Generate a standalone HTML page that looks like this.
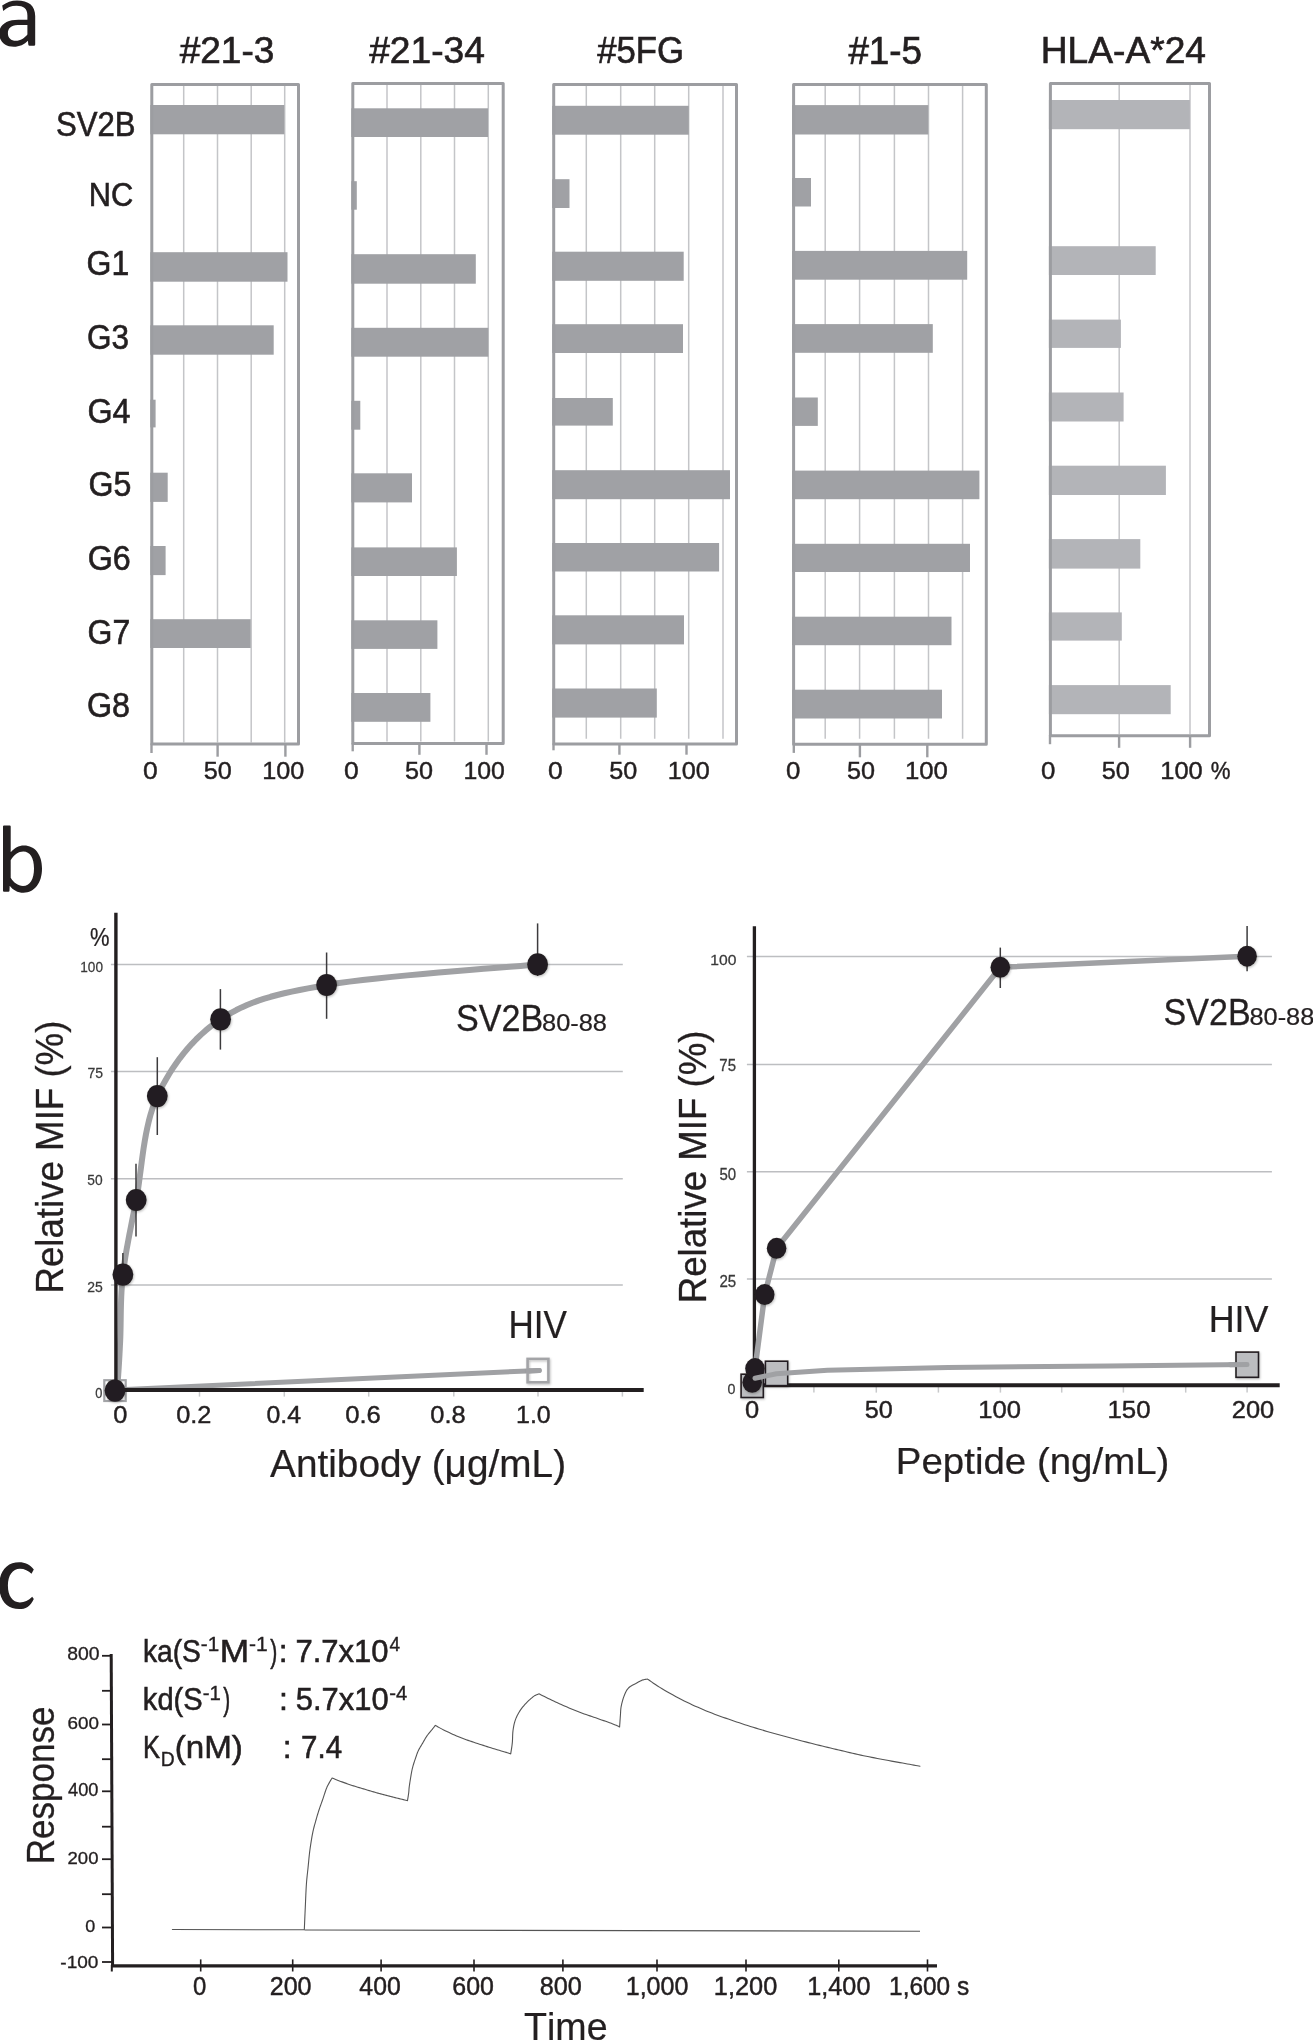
<!DOCTYPE html>
<html><head><meta charset="utf-8"><style>
html,body{margin:0;padding:0;background:#fff;}
svg{display:block;will-change:transform;}
text{font-family:"Liberation Sans",sans-serif;font-kerning:none;}
</style></head><body>
<svg width="1313" height="2040" viewBox="0 0 1313 2040">
<defs>
<filter id="blur1" x="-5%" y="-20%" width="110%" height="140%"><feGaussianBlur stdDeviation="0.7"/></filter>
<filter id="shadow" x="-50%" y="-50%" width="200%" height="200%"><feDropShadow dx="0.8" dy="1.2" stdDeviation="1.2" flood-color="#000" flood-opacity="0.25"/></filter>
</defs>
<rect width="1313" height="2040" fill="#fff"/>
<path fill-rule="evenodd" fill="#231f20" d="M2.2 5.6 C6.5 2.2 11.5 0.4 17 0.4 C28.5 0.4 35.2 5.5 35.2 16 L35.2 44.6 Q35.2 45.8 34 45.8 L29.6 45.8 Q28.4 45.8 28.3 44.6 L27.9 40.8 C24.5 44.6 19.5 46.8 13.8 46.8 C5 46.8 -0.8 41.5 -0.8 33.5 C-0.8 24.5 7 19.7 18.3 19.7 L27.4 19.7 L27.4 15.5 C27.4 8.5 23.5 5.7 16.5 5.7 C11 5.7 7 7.5 3.2 10.9 Z M27.4 24.9 L17.5 24.9 C11 24.9 7.9 28.5 7.9 33.2 C7.9 37.8 11.2 40.8 15.8 40.8 C20.5 40.8 24.8 37.8 27.4 34.5 Z"/>
<text transform="translate(179.68,63.49) scale(0.9875,1)" font-size="37.46" fill="#231f20" stroke="#231f20" stroke-width="0.67">#21-3</text>
<text transform="translate(369.18,63.49) scale(0.9926,1)" font-size="37.46" fill="#231f20" stroke="#231f20" stroke-width="0.67">#21-34</text>
<text transform="translate(597.29,63.49) scale(0.9262,1)" font-size="37.46" fill="#231f20" stroke="#231f20" stroke-width="0.67">#5FG</text>
<text transform="translate(848.38,63.59) scale(0.9656,1)" font-size="38.15" fill="#231f20" stroke="#231f20" stroke-width="0.69">#1-5</text>
<text transform="translate(1040.78,63.27) scale(1.0160,1)" font-size="36.58" fill="#231f20" stroke="#231f20" stroke-width="0.66">HLA-A*24</text>
<text transform="translate(55.90,135.65) scale(0.8973,1)" font-size="34.70" fill="#231f20" stroke="#231f20" stroke-width="0.62">SV2B</text>
<text transform="translate(88.78,205.86) scale(0.9076,1)" font-size="34.01" fill="#231f20" stroke="#231f20" stroke-width="0.61">NC</text>
<text transform="translate(86.50,275.05) scale(0.9234,1)" font-size="34.70" fill="#231f20" stroke="#231f20" stroke-width="0.62">G1</text>
<text transform="translate(86.93,348.84) scale(0.9009,1)" font-size="34.98" fill="#231f20" stroke="#231f20" stroke-width="0.63">G3</text>
<text transform="translate(87.49,422.55) scale(0.9297,1)" font-size="34.70" fill="#231f20" stroke="#231f20" stroke-width="0.62">G4</text>
<text transform="translate(88.50,496.15) scale(0.9366,1)" font-size="34.29" fill="#231f20" stroke="#231f20" stroke-width="0.62">G5</text>
<text transform="translate(87.79,570.15) scale(0.9404,1)" font-size="34.29" fill="#231f20" stroke="#231f20" stroke-width="0.62">G6</text>
<text transform="translate(87.60,644.05) scale(0.9334,1)" font-size="34.29" fill="#231f20" stroke="#231f20" stroke-width="0.62">G7</text>
<text transform="translate(86.99,717.45) scale(0.9424,1)" font-size="34.29" fill="#231f20" stroke="#231f20" stroke-width="0.62">G8</text>
<line x1="183.70" y1="86.00" x2="183.70" y2="742.40" stroke="#c4c5c8" stroke-width="1.5"/>
<line x1="217.50" y1="86.00" x2="217.50" y2="742.40" stroke="#c4c5c8" stroke-width="1.5"/>
<line x1="251.20" y1="86.00" x2="251.20" y2="742.40" stroke="#c4c5c8" stroke-width="1.5"/>
<line x1="284.70" y1="86.00" x2="284.70" y2="742.40" stroke="#c4c5c8" stroke-width="1.5"/>
<rect x="150.30" y="105.00" width="134.00" height="29.30" fill="#a0a1a5"/>
<rect x="150.30" y="252.20" width="137.20" height="29.50" fill="#a0a1a5"/>
<rect x="150.30" y="325.30" width="123.40" height="29.40" fill="#a0a1a5"/>
<rect x="150.30" y="399.70" width="5.30" height="27.70" fill="#a0a1a5"/>
<rect x="150.30" y="472.70" width="17.40" height="29.20" fill="#a0a1a5"/>
<rect x="150.30" y="546.00" width="15.30" height="29.10" fill="#a0a1a5"/>
<rect x="150.30" y="619.20" width="100.40" height="28.80" fill="#a0a1a5"/>
<rect x="151.80" y="84.50" width="146.70" height="659.50" fill="none" stroke="#9c9da1" stroke-width="3" stroke-linejoin="round"/>
<line x1="151.50" y1="743.50" x2="151.50" y2="753.00" stroke="#9c9da1" stroke-width="2.4"/>
<line x1="217.60" y1="743.50" x2="217.60" y2="756.70" stroke="#9c9da1" stroke-width="2.4"/>
<line x1="285.40" y1="743.50" x2="285.40" y2="756.70" stroke="#9c9da1" stroke-width="2.4"/>
<text transform="translate(142.88,779.15) scale(1.1057,1)" font-size="23.96" fill="#231f20" stroke="#231f20" stroke-width="0.43">0</text>
<text transform="translate(203.81,779.15) scale(1.0528,1)" font-size="23.96" fill="#231f20" stroke="#231f20" stroke-width="0.43">50</text>
<text transform="translate(262.30,779.15) scale(1.0523,1)" font-size="23.96" fill="#231f20" stroke="#231f20" stroke-width="0.43">100</text>
<line x1="387.00" y1="85.00" x2="387.00" y2="741.60" stroke="#c4c5c8" stroke-width="1.5"/>
<line x1="420.80" y1="85.00" x2="420.80" y2="741.60" stroke="#c4c5c8" stroke-width="1.5"/>
<line x1="454.50" y1="85.00" x2="454.50" y2="741.60" stroke="#c4c5c8" stroke-width="1.5"/>
<line x1="488.30" y1="85.00" x2="488.30" y2="741.60" stroke="#c4c5c8" stroke-width="1.5"/>
<rect x="351.30" y="108.30" width="136.70" height="28.70" fill="#a0a1a5"/>
<rect x="351.30" y="181.20" width="5.50" height="28.50" fill="#a0a1a5"/>
<rect x="351.30" y="254.20" width="124.50" height="29.50" fill="#a0a1a5"/>
<rect x="351.30" y="327.80" width="137.00" height="28.90" fill="#a0a1a5"/>
<rect x="351.30" y="400.80" width="9.00" height="28.90" fill="#a0a1a5"/>
<rect x="351.30" y="473.30" width="60.70" height="29.10" fill="#a0a1a5"/>
<rect x="351.30" y="547.40" width="105.60" height="28.60" fill="#a0a1a5"/>
<rect x="351.30" y="620.30" width="86.10" height="28.60" fill="#a0a1a5"/>
<rect x="351.30" y="693.00" width="79.10" height="28.80" fill="#a0a1a5"/>
<rect x="352.80" y="83.50" width="150.40" height="660.10" fill="none" stroke="#9c9da1" stroke-width="3" stroke-linejoin="round"/>
<line x1="352.70" y1="743.10" x2="352.70" y2="751.30" stroke="#9c9da1" stroke-width="2.4"/>
<line x1="419.40" y1="743.10" x2="419.40" y2="754.80" stroke="#9c9da1" stroke-width="2.4"/>
<line x1="486.50" y1="743.10" x2="486.50" y2="754.80" stroke="#9c9da1" stroke-width="2.4"/>
<text transform="translate(343.98,779.15) scale(1.1057,1)" font-size="23.96" fill="#231f20" stroke="#231f20" stroke-width="0.43">0</text>
<text transform="translate(404.91,779.15) scale(1.0528,1)" font-size="23.96" fill="#231f20" stroke="#231f20" stroke-width="0.43">50</text>
<text transform="translate(463.43,779.15) scale(1.0362,1)" font-size="23.96" fill="#231f20" stroke="#231f20" stroke-width="0.43">100</text>
<line x1="586.30" y1="86.00" x2="586.30" y2="738.80" stroke="#c4c5c8" stroke-width="1.5"/>
<line x1="620.70" y1="86.00" x2="620.70" y2="738.80" stroke="#c4c5c8" stroke-width="1.5"/>
<line x1="654.70" y1="86.00" x2="654.70" y2="738.80" stroke="#c4c5c8" stroke-width="1.5"/>
<line x1="688.70" y1="86.00" x2="688.70" y2="738.80" stroke="#c4c5c8" stroke-width="1.5"/>
<line x1="723.00" y1="86.00" x2="723.00" y2="738.80" stroke="#c4c5c8" stroke-width="1.5"/>
<rect x="552.20" y="105.80" width="136.60" height="28.90" fill="#a0a1a5"/>
<rect x="552.20" y="179.20" width="17.30" height="28.80" fill="#a0a1a5"/>
<rect x="552.20" y="251.70" width="131.50" height="29.10" fill="#a0a1a5"/>
<rect x="552.20" y="324.20" width="130.80" height="28.80" fill="#a0a1a5"/>
<rect x="552.20" y="398.00" width="60.60" height="27.60" fill="#a0a1a5"/>
<rect x="552.20" y="470.20" width="177.80" height="29.00" fill="#a0a1a5"/>
<rect x="552.20" y="543.00" width="166.90" height="28.50" fill="#a0a1a5"/>
<rect x="552.20" y="615.30" width="131.80" height="29.10" fill="#a0a1a5"/>
<rect x="552.20" y="688.50" width="104.60" height="29.10" fill="#a0a1a5"/>
<rect x="553.70" y="84.50" width="182.80" height="659.50" fill="none" stroke="#9c9da1" stroke-width="3" stroke-linejoin="round"/>
<line x1="553.50" y1="743.50" x2="553.50" y2="750.30" stroke="#9c9da1" stroke-width="2.4"/>
<line x1="619.40" y1="743.50" x2="619.40" y2="754.70" stroke="#9c9da1" stroke-width="2.4"/>
<line x1="686.50" y1="743.50" x2="686.50" y2="754.70" stroke="#9c9da1" stroke-width="2.4"/>
<text transform="translate(548.08,779.15) scale(1.1057,1)" font-size="23.96" fill="#231f20" stroke="#231f20" stroke-width="0.43">0</text>
<text transform="translate(609.31,779.15) scale(1.0528,1)" font-size="23.96" fill="#231f20" stroke="#231f20" stroke-width="0.43">50</text>
<text transform="translate(667.80,779.15) scale(1.0523,1)" font-size="23.96" fill="#231f20" stroke="#231f20" stroke-width="0.43">100</text>
<line x1="825.20" y1="86.00" x2="825.20" y2="738.80" stroke="#c4c5c8" stroke-width="1.5"/>
<line x1="859.60" y1="86.00" x2="859.60" y2="738.80" stroke="#c4c5c8" stroke-width="1.5"/>
<line x1="894.40" y1="86.00" x2="894.40" y2="738.80" stroke="#c4c5c8" stroke-width="1.5"/>
<line x1="928.50" y1="86.00" x2="928.50" y2="738.80" stroke="#c4c5c8" stroke-width="1.5"/>
<line x1="962.60" y1="86.00" x2="962.60" y2="738.80" stroke="#c4c5c8" stroke-width="1.5"/>
<rect x="792.10" y="105.10" width="136.20" height="29.40" fill="#a0a1a5"/>
<rect x="792.10" y="178.00" width="18.90" height="28.50" fill="#a0a1a5"/>
<rect x="792.10" y="250.90" width="175.10" height="28.80" fill="#a0a1a5"/>
<rect x="792.10" y="324.10" width="140.70" height="28.70" fill="#a0a1a5"/>
<rect x="792.10" y="397.50" width="25.70" height="28.40" fill="#a0a1a5"/>
<rect x="792.10" y="470.60" width="187.30" height="28.60" fill="#a0a1a5"/>
<rect x="792.10" y="543.80" width="177.90" height="28.20" fill="#a0a1a5"/>
<rect x="792.10" y="616.70" width="159.40" height="28.50" fill="#a0a1a5"/>
<rect x="792.10" y="689.70" width="149.90" height="28.80" fill="#a0a1a5"/>
<rect x="793.60" y="84.50" width="192.70" height="659.80" fill="none" stroke="#9c9da1" stroke-width="3" stroke-linejoin="round"/>
<line x1="793.80" y1="743.80" x2="793.80" y2="752.90" stroke="#9c9da1" stroke-width="2.4"/>
<line x1="859.90" y1="743.80" x2="859.90" y2="757.30" stroke="#9c9da1" stroke-width="2.4"/>
<line x1="927.30" y1="743.80" x2="927.30" y2="757.30" stroke="#9c9da1" stroke-width="2.4"/>
<text transform="translate(786.01,779.15) scale(1.0795,1)" font-size="23.96" fill="#231f20" stroke="#231f20" stroke-width="0.43">0</text>
<text transform="translate(846.91,779.15) scale(1.0528,1)" font-size="23.96" fill="#231f20" stroke="#231f20" stroke-width="0.43">50</text>
<text transform="translate(904.95,779.15) scale(1.0765,1)" font-size="23.96" fill="#231f20" stroke="#231f20" stroke-width="0.43">100</text>
<line x1="1119.20" y1="85.00" x2="1119.20" y2="734.20" stroke="#c4c5c8" stroke-width="1.5"/>
<line x1="1190.00" y1="85.00" x2="1190.00" y2="734.20" stroke="#c4c5c8" stroke-width="1.5"/>
<rect x="1048.90" y="100.00" width="141.00" height="29.20" fill="#b3b4b8" filter="url(#blur1)"/>
<rect x="1048.90" y="246.20" width="106.80" height="28.80" fill="#b3b4b8" filter="url(#blur1)"/>
<rect x="1048.90" y="319.60" width="72.00" height="28.30" fill="#b3b4b8" filter="url(#blur1)"/>
<rect x="1048.90" y="392.50" width="74.70" height="29.00" fill="#b3b4b8" filter="url(#blur1)"/>
<rect x="1048.90" y="465.70" width="117.00" height="29.30" fill="#b3b4b8" filter="url(#blur1)"/>
<rect x="1048.90" y="539.10" width="91.40" height="29.50" fill="#b3b4b8" filter="url(#blur1)"/>
<rect x="1048.90" y="612.40" width="72.90" height="28.20" fill="#b3b4b8" filter="url(#blur1)"/>
<rect x="1048.90" y="685.10" width="121.80" height="29.10" fill="#b3b4b8" filter="url(#blur1)"/>
<rect x="1050.40" y="83.50" width="159.10" height="652.20" fill="none" stroke="#9c9da1" stroke-width="3" stroke-linejoin="round"/>
<line x1="1050.00" y1="735.20" x2="1050.00" y2="744.20" stroke="#9c9da1" stroke-width="2.4"/>
<line x1="1119.10" y1="735.20" x2="1119.10" y2="747.80" stroke="#9c9da1" stroke-width="2.4"/>
<line x1="1190.10" y1="735.20" x2="1190.10" y2="747.80" stroke="#9c9da1" stroke-width="2.4"/>
<text transform="translate(1040.91,779.15) scale(1.0795,1)" font-size="23.96" fill="#231f20" stroke="#231f20" stroke-width="0.43">0</text>
<text transform="translate(1101.81,779.15) scale(1.0528,1)" font-size="23.96" fill="#231f20" stroke="#231f20" stroke-width="0.43">50</text>
<text transform="translate(1160.28,779.15) scale(1.0631,1)" font-size="23.96" fill="#231f20" stroke="#231f20" stroke-width="0.43">100</text>
<text transform="translate(1210.73,779.24) scale(0.9160,1)" font-size="24.25" fill="#231f20" stroke="#231f20" stroke-width="0.44">%</text>
<path fill-rule="evenodd" fill="#231f20" d="M3 826.5 Q3 825.5 4 825.5 L9.7 825.5 Q10.7 825.5 10.7 826.5 L10.7 852.3 C14.5 848 18.5 845.4 24 845.4 C35 845.4 42 854.5 42 868.5 C42 883 34.5 892.7 23.5 892.7 C17.5 892.7 13 890 9.7 885.7 L9.5 890.8 Q9.4 891.8 8.4 891.8 L4 891.8 Q3 891.8 3 890.8 Z M10.7 860.2 L10.7 877.8 C13.5 882.5 18 886 23 886 C30 886 34 879 34 868.5 C34 858 30 851.6 23.3 851.6 C18.5 851.6 14 855 10.7 860.2 Z"/>
<line x1="110.90" y1="964.60" x2="622.80" y2="964.60" stroke="#bdbec1" stroke-width="1.5"/>
<line x1="110.90" y1="1071.40" x2="622.80" y2="1071.40" stroke="#bdbec1" stroke-width="1.5"/>
<line x1="110.90" y1="1178.70" x2="622.80" y2="1178.70" stroke="#bdbec1" stroke-width="1.5"/>
<line x1="110.90" y1="1285.10" x2="622.80" y2="1285.10" stroke="#bdbec1" stroke-width="1.5"/>
<line x1="199.50" y1="1391.00" x2="199.50" y2="1396.60" stroke="#c8c9cb" stroke-width="1.5"/>
<line x1="284.30" y1="1391.00" x2="284.30" y2="1396.60" stroke="#c8c9cb" stroke-width="1.5"/>
<line x1="368.70" y1="1391.00" x2="368.70" y2="1396.60" stroke="#c8c9cb" stroke-width="1.5"/>
<line x1="453.80" y1="1391.00" x2="453.80" y2="1396.60" stroke="#c8c9cb" stroke-width="1.5"/>
<line x1="538.00" y1="1391.00" x2="538.00" y2="1396.60" stroke="#c8c9cb" stroke-width="1.5"/>
<line x1="622.40" y1="1391.00" x2="622.40" y2="1396.60" stroke="#c8c9cb" stroke-width="1.5"/>
<text transform="translate(80.30,971.71) scale(0.8978,1)" font-size="15.15" fill="#3a3a3a" stroke="#3a3a3a" stroke-width="0.27">100</text>
<text transform="translate(87.51,1078.13) scale(0.9616,1)" font-size="14.53" fill="#3a3a3a" stroke="#3a3a3a" stroke-width="0.26">75</text>
<text transform="translate(87.28,1184.93) scale(0.9623,1)" font-size="14.32" fill="#3a3a3a" stroke="#3a3a3a" stroke-width="0.26">50</text>
<text transform="translate(87.13,1291.92) scale(0.9292,1)" font-size="15.01" fill="#3a3a3a" stroke="#3a3a3a" stroke-width="0.27">25</text>
<text transform="translate(95.24,1397.71) scale(0.8459,1)" font-size="15.15" fill="#3a3a3a" stroke="#3a3a3a" stroke-width="0.27">0</text>
<text transform="translate(90.04,945.73) scale(0.8652,1)" font-size="25.37" fill="#231f20" stroke="#231f20" stroke-width="0.25">%</text>
<text transform="translate(113.23,1422.74) scale(1.0313,1)" font-size="24.65" fill="#231f20" stroke="#231f20" stroke-width="0.44">0</text>
<text transform="translate(176.23,1422.74) scale(1.0277,1)" font-size="24.65" fill="#231f20" stroke="#231f20" stroke-width="0.44">0.2</text>
<text transform="translate(266.55,1422.74) scale(1.0083,1)" font-size="24.65" fill="#231f20" stroke="#231f20" stroke-width="0.44">0.4</text>
<text transform="translate(345.22,1422.74) scale(1.0413,1)" font-size="24.65" fill="#231f20" stroke="#231f20" stroke-width="0.44">0.6</text>
<text transform="translate(430.33,1422.74) scale(1.0316,1)" font-size="24.65" fill="#231f20" stroke="#231f20" stroke-width="0.44">0.8</text>
<text transform="translate(516.02,1422.74) scale(1.0136,1)" font-size="24.65" fill="#231f20" stroke="#231f20" stroke-width="0.44">1.0</text>
<text transform="translate(270.04,1477.00) scale(1.0178,1)" font-size="38.10" fill="#231f20" stroke="#231f20" stroke-width="0.23">Antibody (μg/mL)</text>
<text transform="translate(63.30,1293.51) rotate(-90) scale(0.9377,1)" font-size="39.10" fill="#231f20" stroke="#231f20" stroke-width="0.31">Relative MIF (%)</text>
<path d="M115.00,1390.00 L539.30,1370.40" fill="none" stroke="#a0a1a4" stroke-width="5" stroke-linejoin="round" stroke-linecap="round"/>
<rect x="104.30" y="1380.20" width="21.4" height="20.8" fill="#fff" stroke="#a3a4a7" stroke-width="2.2"/>
<rect x="527.60" y="1358.90" width="20.8" height="23.4" fill="none" stroke="#a3a4a7" stroke-width="2.6" filter="url(#shadow)"/>
<path d="M539.30,1370.40 L529.00,1370.90" fill="none" stroke="#a0a1a4" stroke-width="5" stroke-linejoin="round" stroke-linecap="round"/>
<path d="M116.50,1392.00 L116.56,1391.44 L116.63,1390.81 L116.71,1390.12 L116.80,1389.37 L116.90,1388.55 L117.00,1387.66 L117.11,1386.71 L117.22,1385.69 L117.34,1384.60 L117.47,1383.44 L117.59,1382.21 L117.71,1380.91 L117.84,1379.54 L117.96,1378.10 L118.08,1376.59 L118.20,1375.00 L118.32,1373.36 L118.43,1371.69 L118.55,1369.99 L118.66,1368.23 L118.78,1366.41 L118.90,1364.53 L119.02,1362.57 L119.14,1360.52 L119.26,1358.39 L119.39,1356.14 L119.51,1353.79 L119.64,1351.31 L119.78,1348.70 L119.91,1345.95 L120.06,1343.06 L120.20,1340.00 L120.33,1336.76 L120.43,1333.34 L120.51,1329.75 L120.58,1326.00 L120.64,1322.12 L120.70,1318.11 L120.76,1313.99 L120.84,1309.78 L120.95,1305.49 L121.08,1301.13 L121.25,1296.74 L121.46,1292.31 L121.73,1287.87 L122.05,1283.42 L122.44,1279.00 L122.90,1274.60 L123.43,1270.24 L124.00,1265.92 L124.63,1261.60 L125.30,1257.28 L126.01,1252.95 L126.77,1248.59 L127.57,1244.18 L128.40,1239.71 L129.27,1235.16 L130.18,1230.53 L131.11,1225.79 L132.08,1220.93 L133.07,1215.93 L134.09,1210.79 L135.14,1205.48 L136.20,1200.00 L137.23,1194.26 L138.18,1188.23 L139.07,1181.95 L139.94,1175.45 L140.80,1168.79 L141.69,1161.99 L142.62,1155.11 L143.62,1148.19 L144.73,1141.26 L145.95,1134.37 L147.33,1127.55 L148.87,1120.86 L150.62,1114.32 L152.59,1107.99 L154.81,1101.90 L157.30,1096.10 L160.02,1090.48 L162.90,1084.91 L165.95,1079.42 L169.16,1074.00 L172.53,1068.67 L176.07,1063.45 L179.77,1058.34 L183.64,1053.35 L187.68,1048.50 L191.88,1043.80 L196.25,1039.25 L200.78,1034.88 L205.49,1030.68 L210.36,1026.68 L215.39,1022.88 L220.60,1019.30 L225.86,1015.96 L231.09,1012.89 L236.33,1010.04 L241.64,1007.42 L247.05,1004.98 L252.61,1002.72 L258.37,1000.61 L264.37,998.64 L270.66,996.77 L277.28,994.99 L284.29,993.28 L291.72,991.62 L299.62,989.98 L308.03,988.34 L317.01,986.69 L326.60,985.00 L337.29,983.30 L349.39,981.63 L362.68,980.00 L376.91,978.40 L391.87,976.86 L407.31,975.37 L423.00,973.93 L438.73,972.56 L454.24,971.25 L469.31,970.01 L483.72,968.86 L497.23,967.78 L509.60,966.79 L520.60,965.90 L530.02,965.10 L537.60,964.40" fill="none" stroke="#a0a1a4" stroke-width="6" stroke-linejoin="round" stroke-linecap="round"/>
<line x1="115.90" y1="912.70" x2="115.90" y2="1391.00" stroke="#231f20" stroke-width="3.4"/>
<line x1="114.00" y1="1390.00" x2="643.70" y2="1390.00" stroke="#231f20" stroke-width="3.9"/>
<line x1="122.90" y1="1253.00" x2="122.90" y2="1274.00" stroke="#3c3b3d" stroke-width="1.5"/>
<line x1="136.00" y1="1163.70" x2="136.00" y2="1236.40" stroke="#3c3b3d" stroke-width="1.5"/>
<line x1="157.30" y1="1057.20" x2="157.30" y2="1135.00" stroke="#3c3b3d" stroke-width="1.5"/>
<line x1="220.40" y1="989.10" x2="220.40" y2="1049.60" stroke="#3c3b3d" stroke-width="1.5"/>
<line x1="326.60" y1="952.50" x2="326.60" y2="1018.80" stroke="#3c3b3d" stroke-width="1.5"/>
<line x1="537.60" y1="923.40" x2="537.60" y2="976.00" stroke="#3c3b3d" stroke-width="1.5"/>
<ellipse cx="115" cy="1390.6" rx="10.4" ry="11.1" fill="#231f20" filter="url(#shadow)"/>
<ellipse cx="122.9" cy="1274.6" rx="10.4" ry="11.1" fill="#231f20" filter="url(#shadow)"/>
<ellipse cx="136.2" cy="1200" rx="10.4" ry="11.1" fill="#231f20" filter="url(#shadow)"/>
<ellipse cx="157.3" cy="1096.1" rx="10.4" ry="11.1" fill="#231f20" filter="url(#shadow)"/>
<ellipse cx="220.6" cy="1019.3" rx="10.4" ry="11.1" fill="#231f20" filter="url(#shadow)"/>
<ellipse cx="326.6" cy="985" rx="10.4" ry="11.1" fill="#231f20" filter="url(#shadow)"/>
<ellipse cx="537.6" cy="964.4" rx="10.4" ry="11.1" fill="#231f20" filter="url(#shadow)"/>
<text transform="translate(456.00,1030.60) scale(0.9361,1)" font-size="36.45" fill="#231f20" stroke="#231f20" stroke-width="0.29">SV2B</text>
<text transform="translate(542.02,1030.75) scale(1.0604,1)" font-size="23.96" fill="#231f20" stroke="#231f20" stroke-width="0.24">80-88</text>
<text transform="translate(508.53,1337.69) scale(0.9189,1)" font-size="38.20" fill="#231f20" stroke="#231f20" stroke-width="0.23">HIV</text>
<line x1="746.90" y1="956.60" x2="1271.90" y2="956.60" stroke="#bdbec1" stroke-width="1.5"/>
<line x1="746.90" y1="1064.40" x2="1271.90" y2="1064.40" stroke="#bdbec1" stroke-width="1.5"/>
<line x1="746.90" y1="1171.80" x2="1271.90" y2="1171.80" stroke="#bdbec1" stroke-width="1.5"/>
<line x1="746.90" y1="1278.90" x2="1271.90" y2="1278.90" stroke="#bdbec1" stroke-width="1.5"/>
<line x1="813.90" y1="1387.00" x2="813.90" y2="1392.60" stroke="#c8c9cb" stroke-width="1.5"/>
<line x1="876.30" y1="1387.00" x2="876.30" y2="1392.60" stroke="#c8c9cb" stroke-width="1.5"/>
<line x1="938.40" y1="1387.00" x2="938.40" y2="1392.60" stroke="#c8c9cb" stroke-width="1.5"/>
<line x1="1000.40" y1="1387.00" x2="1000.40" y2="1392.60" stroke="#c8c9cb" stroke-width="1.5"/>
<line x1="1061.70" y1="1387.00" x2="1061.70" y2="1392.60" stroke="#c8c9cb" stroke-width="1.5"/>
<line x1="1123.40" y1="1387.00" x2="1123.40" y2="1392.60" stroke="#c8c9cb" stroke-width="1.5"/>
<line x1="1185.70" y1="1387.00" x2="1185.70" y2="1392.60" stroke="#c8c9cb" stroke-width="1.5"/>
<line x1="1247.10" y1="1387.00" x2="1247.10" y2="1392.60" stroke="#c8c9cb" stroke-width="1.5"/>
<text transform="translate(710.35,964.71) scale(1.0244,1)" font-size="15.29" fill="#3a3a3a" stroke="#3a3a3a" stroke-width="0.28">100</text>
<text transform="translate(719.37,1071.00) scale(0.9520,1)" font-size="15.79" fill="#3a3a3a" stroke="#3a3a3a" stroke-width="0.28">75</text>
<text transform="translate(719.45,1179.79) scale(0.9002,1)" font-size="16.66" fill="#3a3a3a" stroke="#3a3a3a" stroke-width="0.30">50</text>
<text transform="translate(719.39,1286.99) scale(0.9059,1)" font-size="16.66" fill="#3a3a3a" stroke="#3a3a3a" stroke-width="0.30">25</text>
<text transform="translate(727.58,1394.32) scale(0.9515,1)" font-size="15.01" fill="#3a3a3a" stroke="#3a3a3a" stroke-width="0.27">0</text>
<text transform="translate(745.02,1418.16) scale(1.0813,1)" font-size="23.55" fill="#231f20" stroke="#231f20" stroke-width="0.42">0</text>
<text transform="translate(864.80,1418.16) scale(1.0716,1)" font-size="23.55" fill="#231f20" stroke="#231f20" stroke-width="0.42">50</text>
<text transform="translate(978.26,1418.16) scale(1.0874,1)" font-size="23.55" fill="#231f20" stroke="#231f20" stroke-width="0.42">100</text>
<text transform="translate(1107.44,1418.16) scale(1.0983,1)" font-size="23.55" fill="#231f20" stroke="#231f20" stroke-width="0.42">150</text>
<text transform="translate(1231.83,1418.16) scale(1.0803,1)" font-size="23.55" fill="#231f20" stroke="#231f20" stroke-width="0.42">200</text>
<text transform="translate(895.76,1473.60) scale(1.0178,1)" font-size="37.80" fill="#231f20" stroke="#231f20" stroke-width="0.23">Peptide (ng/mL)</text>
<text transform="translate(706.20,1303.21) rotate(-90) scale(0.9405,1)" font-size="38.95" fill="#231f20" stroke="#231f20" stroke-width="0.31">Relative MIF (%)</text>
<line x1="754.40" y1="926.30" x2="754.40" y2="1387.00" stroke="#231f20" stroke-width="3.3"/>
<line x1="752.80" y1="1385.20" x2="1279.70" y2="1385.20" stroke="#231f20" stroke-width="3.9"/>
<path d="M752.20,1382.30 L755.00,1368.60 L764.70,1294.60 L776.60,1248.30 L1000.30,967.30 L1247.10,956.20" fill="none" stroke="#a0a1a4" stroke-width="5.5" stroke-linejoin="round" stroke-linecap="round"/>
<line x1="1000.30" y1="947.60" x2="1000.30" y2="988.00" stroke="#3c3b3d" stroke-width="1.5"/>
<line x1="1247.10" y1="926.10" x2="1247.10" y2="971.30" stroke="#3c3b3d" stroke-width="1.5"/>
<rect x="741.10" y="1374.20" width="22.20" height="23.30" fill="#bcbdc0" stroke="#231f20" stroke-width="1.6" filter="url(#shadow)"/>
<rect x="765.40" y="1361.20" width="22.30" height="24.40" fill="#bcbdc0" stroke="#231f20" stroke-width="1.6" filter="url(#shadow)"/>
<ellipse cx="752.2" cy="1382.3" rx="9.8" ry="10.5" fill="#231f20" filter="url(#shadow)"/>
<ellipse cx="755" cy="1368.6" rx="9.8" ry="10.5" fill="#231f20" filter="url(#shadow)"/>
<ellipse cx="764.7" cy="1294.6" rx="9.8" ry="10.5" fill="#231f20" filter="url(#shadow)"/>
<ellipse cx="776.6" cy="1248.3" rx="9.8" ry="10.5" fill="#231f20" filter="url(#shadow)"/>
<ellipse cx="1000.3" cy="967.3" rx="9.8" ry="10.5" fill="#231f20" filter="url(#shadow)"/>
<ellipse cx="1247.1" cy="956.2" rx="9.8" ry="10.5" fill="#231f20" filter="url(#shadow)"/>
<path d="M755.00,1378.20 L776.50,1373.80 L827.50,1370.20 L948.00,1367.50 L1109.00,1366.00 L1247.00,1364.60" fill="none" stroke="#a0a1a4" stroke-width="5" stroke-linejoin="round" stroke-linecap="round"/>
<rect x="1236.00" y="1352.10" width="22.5" height="25.2" fill="#bcbdc0" stroke="#231f20" stroke-width="1.6" filter="url(#shadow)"/>
<path d="M1230.00,1364.80 L1247.00,1364.60" fill="none" stroke="#a0a1a4" stroke-width="5" stroke-linejoin="round" stroke-linecap="round"/>
<text transform="translate(1163.50,1024.59) scale(0.9243,1)" font-size="36.87" fill="#231f20" stroke="#231f20" stroke-width="0.29">SV2B</text>
<text transform="translate(1249.41,1024.75) scale(1.0666,1)" font-size="23.82" fill="#231f20" stroke="#231f20" stroke-width="0.24">80-88</text>
<text transform="translate(1208.66,1331.79) scale(0.9814,1)" font-size="36.61" fill="#231f20" stroke="#231f20" stroke-width="0.22">HIV</text>
<path fill-rule="evenodd" fill="#231f20" d="M33.8 1569.4 C30 1564.5 25 1562.2 19.2 1562.2 C7 1562.2 -0.8 1571 -0.8 1585.7 C-0.8 1600.5 7 1609.1 19.2 1609.1 C25.5 1609.1 30.5 1606.5 33.8 1598.9 L32.2 1596.8 C28.5 1600.5 24.5 1602.5 19.9 1602.5 C12.5 1602.5 7.9 1596 7.9 1585.6 C7.9 1575.5 12.5 1568.7 19.9 1568.7 C24.5 1568.7 28.5 1570.7 31.5 1573.7 Z"/>
<line x1="111.20" y1="1654.00" x2="112.60" y2="1967.00" stroke="#231f20" stroke-width="3"/>
<line x1="102.00" y1="1655.80" x2="112.00" y2="1655.80" stroke="#231f20" stroke-width="1.8"/>
<line x1="102.00" y1="1690.80" x2="112.00" y2="1690.80" stroke="#231f20" stroke-width="1.8"/>
<line x1="102.00" y1="1724.50" x2="112.00" y2="1724.50" stroke="#231f20" stroke-width="1.8"/>
<line x1="102.00" y1="1759.20" x2="112.00" y2="1759.20" stroke="#231f20" stroke-width="1.8"/>
<line x1="102.00" y1="1791.30" x2="112.00" y2="1791.30" stroke="#231f20" stroke-width="1.8"/>
<line x1="102.00" y1="1826.70" x2="112.00" y2="1826.70" stroke="#231f20" stroke-width="1.8"/>
<line x1="102.00" y1="1859.20" x2="112.00" y2="1859.20" stroke="#231f20" stroke-width="1.8"/>
<line x1="102.00" y1="1894.20" x2="112.00" y2="1894.20" stroke="#231f20" stroke-width="1.8"/>
<line x1="102.00" y1="1927.50" x2="112.00" y2="1927.50" stroke="#231f20" stroke-width="1.8"/>
<line x1="102.00" y1="1962.00" x2="112.00" y2="1962.00" stroke="#231f20" stroke-width="1.8"/>
<text transform="translate(67.22,1659.97) scale(1.1062,1)" font-size="17.49" fill="#231f20" stroke="#231f20" stroke-width="0.31">800</text>
<text transform="translate(67.60,1728.98) scale(1.0962,1)" font-size="17.21" fill="#231f20" stroke="#231f20" stroke-width="0.31">600</text>
<text transform="translate(68.04,1796.16) scale(1.0179,1)" font-size="17.90" fill="#231f20" stroke="#231f20" stroke-width="0.32">400</text>
<text transform="translate(67.52,1864.38) scale(1.0774,1)" font-size="17.21" fill="#231f20" stroke="#231f20" stroke-width="0.31">200</text>
<text transform="translate(85.14,1932.30) scale(1.1176,1)" font-size="16.11" fill="#231f20" stroke="#231f20" stroke-width="0.29">0</text>
<text transform="translate(60.30,1968.28) scale(1.1357,1)" font-size="16.80" fill="#231f20" stroke="#231f20" stroke-width="0.30">-100</text>
<line x1="111.00" y1="1965.80" x2="937.00" y2="1965.80" stroke="#231f20" stroke-width="3.3"/>
<line x1="111.80" y1="1965.00" x2="111.80" y2="1971.50" stroke="#231f20" stroke-width="2"/>
<line x1="200.70" y1="1959.40" x2="200.70" y2="1971.50" stroke="#231f20" stroke-width="1.6"/>
<line x1="292.70" y1="1959.40" x2="292.70" y2="1971.50" stroke="#231f20" stroke-width="1.6"/>
<line x1="381.10" y1="1959.40" x2="381.10" y2="1971.50" stroke="#231f20" stroke-width="1.6"/>
<line x1="474.00" y1="1959.40" x2="474.00" y2="1971.50" stroke="#231f20" stroke-width="1.6"/>
<line x1="562.90" y1="1959.40" x2="562.90" y2="1971.50" stroke="#231f20" stroke-width="1.6"/>
<line x1="657.00" y1="1959.40" x2="657.00" y2="1971.50" stroke="#231f20" stroke-width="1.6"/>
<line x1="746.00" y1="1959.40" x2="746.00" y2="1971.50" stroke="#231f20" stroke-width="1.6"/>
<line x1="838.80" y1="1959.40" x2="838.80" y2="1971.50" stroke="#231f20" stroke-width="1.6"/>
<line x1="927.50" y1="1959.40" x2="927.50" y2="1971.50" stroke="#231f20" stroke-width="1.6"/>
<text transform="translate(193.10,1995.30) scale(0.9348,1)" font-size="25.60" fill="#231f20" stroke="#231f20" stroke-width="0.46">0</text>
<text transform="translate(269.67,1995.30) scale(0.9806,1)" font-size="25.60" fill="#231f20" stroke="#231f20" stroke-width="0.46">200</text>
<text transform="translate(359.36,1995.30) scale(0.9687,1)" font-size="25.60" fill="#231f20" stroke="#231f20" stroke-width="0.46">400</text>
<text transform="translate(452.26,1995.30) scale(0.9759,1)" font-size="25.60" fill="#231f20" stroke="#231f20" stroke-width="0.46">600</text>
<text transform="translate(539.73,1995.30) scale(0.9862,1)" font-size="25.60" fill="#231f20" stroke="#231f20" stroke-width="0.46">800</text>
<text transform="translate(625.72,1995.30) scale(0.9792,1)" font-size="25.60" fill="#231f20" stroke="#231f20" stroke-width="0.46">1,000</text>
<text transform="translate(713.80,1995.30) scale(0.9906,1)" font-size="25.60" fill="#231f20" stroke="#231f20" stroke-width="0.46">1,200</text>
<text transform="translate(807.31,1995.30) scale(0.9857,1)" font-size="25.60" fill="#231f20" stroke="#231f20" stroke-width="0.46">1,400</text>
<text transform="translate(889.07,1995.30) scale(0.9536,1)" font-size="25.60" fill="#231f20" stroke="#231f20" stroke-width="0.46">1,600 s</text>
<text transform="translate(523.97,2039.70) scale(0.9719,1)" font-size="38.70" fill="#231f20" stroke="#231f20" stroke-width="0.23">Time</text>
<text transform="translate(54.00,1864.28) rotate(-90) scale(0.9106,1)" font-size="38.52" fill="#231f20" stroke="#231f20" stroke-width="0.31">Response</text>
<path d="M172.40,1929.50 L304.30,1929.80 L304.30,1929.80 L304.38,1928.05 L304.48,1925.73 L304.60,1922.96 L304.73,1919.88 L304.87,1916.62 L305.02,1913.32 L305.16,1910.10 L305.30,1907.10 L305.43,1904.21 L305.55,1901.25 L305.68,1898.27 L305.81,1895.30 L305.94,1892.37 L306.08,1889.52 L306.23,1886.79 L306.40,1884.20 L306.58,1881.78 L306.78,1879.52 L306.99,1877.36 L307.21,1875.29 L307.43,1873.26 L307.65,1871.24 L307.88,1869.20 L308.10,1867.10 L308.31,1864.96 L308.52,1862.83 L308.72,1860.69 L308.93,1858.56 L309.15,1856.42 L309.38,1854.28 L309.63,1852.14 L309.90,1850.00 L310.20,1847.82 L310.53,1845.57 L310.87,1843.30 L311.23,1841.04 L311.60,1838.83 L311.97,1836.69 L312.34,1834.67 L312.70,1832.80 L313.05,1831.10 L313.41,1829.54 L313.76,1828.10 L314.11,1826.74 L314.47,1825.42 L314.84,1824.11 L315.21,1822.79 L315.60,1821.40 L316.00,1819.98 L316.40,1818.55 L316.81,1817.12 L317.23,1815.70 L317.66,1814.28 L318.10,1812.85 L318.54,1811.43 L319.00,1810.00 L319.47,1808.58 L319.96,1807.15 L320.46,1805.73 L320.96,1804.31 L321.47,1802.88 L321.99,1801.46 L322.50,1800.03 L323.00,1798.60 L323.49,1797.15 L323.97,1795.68 L324.45,1794.19 L324.93,1792.71 L325.42,1791.24 L325.92,1789.81 L326.45,1788.42 L327.00,1787.10 L327.62,1785.79 L328.32,1784.44 L329.06,1783.11 L329.80,1781.83 L330.51,1780.64 L331.16,1779.58 L331.70,1778.69 L332.10,1778.00 L332.74,1778.26 L333.58,1778.60 L334.57,1779.00 L335.69,1779.45 L336.89,1779.93 L338.15,1780.43 L339.43,1780.92 L340.70,1781.40 L341.99,1781.87 L343.35,1782.37 L344.77,1782.88 L346.22,1783.39 L347.70,1783.91 L349.18,1784.42 L350.66,1784.92 L352.10,1785.40 L353.52,1785.86 L354.95,1786.31 L356.37,1786.75 L357.79,1787.19 L359.22,1787.62 L360.64,1788.04 L362.07,1788.47 L363.50,1788.90 L364.93,1789.33 L366.37,1789.76 L367.81,1790.20 L369.25,1790.62 L370.69,1791.05 L372.13,1791.47 L373.57,1791.89 L375.00,1792.30 L376.43,1792.70 L377.86,1793.10 L379.28,1793.49 L380.71,1793.88 L382.13,1794.27 L383.55,1794.65 L384.98,1795.02 L386.40,1795.40 L387.84,1795.78 L389.29,1796.15 L390.75,1796.53 L392.21,1796.90 L393.65,1797.27 L395.07,1797.62 L396.46,1797.97 L397.80,1798.30 L399.16,1798.63 L400.57,1798.97 L401.99,1799.31 L403.36,1799.63 L404.65,1799.93 L405.80,1800.20 L406.76,1800.43 L407.50,1800.60 L407.60,1799.98 L407.73,1799.15 L407.89,1798.15 L408.07,1797.06 L408.25,1795.91 L408.42,1794.79 L408.58,1793.73 L408.70,1792.80 L408.79,1792.00 L408.86,1791.28 L408.91,1790.61 L408.95,1789.96 L408.99,1789.31 L409.04,1788.64 L409.11,1787.91 L409.20,1787.10 L409.31,1786.22 L409.44,1785.29 L409.58,1784.32 L409.73,1783.31 L409.89,1782.28 L410.06,1781.23 L410.23,1780.17 L410.40,1779.10 L410.58,1777.99 L410.77,1776.83 L410.97,1775.63 L411.17,1774.42 L411.38,1773.23 L411.59,1772.08 L411.80,1771.00 L412.00,1770.00 L412.20,1769.10 L412.39,1768.28 L412.58,1767.52 L412.77,1766.81 L412.97,1766.11 L413.17,1765.43 L413.38,1764.73 L413.60,1764.00 L413.83,1763.26 L414.06,1762.53 L414.29,1761.81 L414.53,1761.08 L414.78,1760.35 L415.04,1759.59 L415.31,1758.81 L415.60,1758.00 L415.89,1757.15 L416.19,1756.27 L416.50,1755.36 L416.81,1754.43 L417.15,1753.49 L417.50,1752.56 L417.89,1751.62 L418.30,1750.70 L418.75,1749.79 L419.24,1748.88 L419.76,1747.96 L420.30,1747.05 L420.85,1746.14 L421.41,1745.23 L421.96,1744.31 L422.50,1743.40 L423.03,1742.48 L423.55,1741.55 L424.08,1740.61 L424.61,1739.67 L425.14,1738.75 L425.68,1737.84 L426.23,1736.96 L426.80,1736.10 L427.39,1735.27 L428.01,1734.46 L428.65,1733.66 L429.29,1732.88 L429.93,1732.12 L430.55,1731.39 L431.15,1730.68 L431.70,1730.00 L432.24,1729.32 L432.78,1728.64 L433.30,1727.96 L433.81,1727.32 L434.27,1726.72 L434.68,1726.19 L435.03,1725.74 L435.30,1725.40 L436.03,1725.80 L436.95,1726.31 L438.05,1726.93 L439.29,1727.62 L440.66,1728.36 L442.11,1729.14 L443.64,1729.92 L445.20,1730.70 L446.85,1731.50 L448.65,1732.35 L450.55,1733.24 L452.52,1734.15 L454.53,1735.06 L456.56,1735.95 L458.56,1736.80 L460.50,1737.60 L462.40,1738.34 L464.31,1739.05 L466.21,1739.72 L468.11,1740.37 L470.00,1741.01 L471.90,1741.64 L473.80,1742.27 L475.70,1742.90 L477.60,1743.53 L479.50,1744.16 L481.40,1744.78 L483.29,1745.39 L485.19,1746.00 L487.09,1746.61 L489.00,1747.20 L490.90,1747.80 L492.88,1748.41 L494.97,1749.04 L497.10,1749.68 L499.22,1750.31 L501.25,1750.92 L503.13,1751.47 L504.80,1751.98 L506.20,1752.40 L507.31,1752.75 L508.19,1753.03 L508.88,1753.26 L509.41,1753.44 L509.82,1753.58 L510.14,1753.70 L510.43,1753.81 L510.70,1753.90 L510.83,1753.06 L511.01,1751.95 L511.22,1750.63 L511.46,1749.16 L511.70,1747.60 L511.93,1745.99 L512.13,1744.41 L512.30,1742.90 L512.42,1741.42 L512.50,1739.90 L512.56,1738.34 L512.61,1736.78 L512.66,1735.21 L512.73,1733.67 L512.84,1732.16 L513.00,1730.70 L513.20,1729.29 L513.41,1727.90 L513.64,1726.55 L513.91,1725.21 L514.20,1723.90 L514.53,1722.61 L514.89,1721.35 L515.30,1720.10 L515.75,1718.87 L516.25,1717.66 L516.79,1716.48 L517.36,1715.31 L517.96,1714.17 L518.59,1713.05 L519.24,1711.96 L519.90,1710.90 L520.58,1709.87 L521.28,1708.87 L522.01,1707.90 L522.76,1706.96 L523.54,1706.03 L524.33,1705.11 L525.16,1704.21 L526.00,1703.30 L526.89,1702.37 L527.85,1701.42 L528.84,1700.47 L529.85,1699.54 L530.85,1698.64 L531.83,1697.81 L532.75,1697.05 L533.60,1696.40 L534.41,1695.85 L535.21,1695.39 L535.99,1695.00 L536.73,1694.67 L537.40,1694.40 L538.00,1694.17 L538.51,1693.97 L538.90,1693.80 L539.89,1694.29 L541.18,1694.94 L542.73,1695.71 L544.45,1696.57 L546.29,1697.48 L548.19,1698.41 L550.08,1699.33 L551.90,1700.20 L553.69,1701.04 L555.55,1701.91 L557.44,1702.79 L559.36,1703.67 L561.30,1704.55 L563.25,1705.42 L565.18,1706.27 L567.10,1707.10 L569.00,1707.91 L570.90,1708.70 L572.80,1709.48 L574.69,1710.25 L576.59,1711.01 L578.49,1711.75 L580.40,1712.48 L582.30,1713.20 L584.21,1713.90 L586.12,1714.58 L588.03,1715.24 L589.95,1715.89 L591.87,1716.54 L593.78,1717.19 L595.69,1717.84 L597.60,1718.50 L599.56,1719.19 L601.60,1719.90 L603.68,1720.62 L605.73,1721.34 L607.72,1722.05 L609.59,1722.72 L611.30,1723.34 L612.80,1723.90 L614.10,1724.41 L615.25,1724.89 L616.26,1725.33 L617.15,1725.74 L617.92,1726.10 L618.57,1726.42 L619.13,1726.68 L619.60,1726.90 L619.66,1726.01 L619.74,1724.80 L619.84,1723.36 L619.95,1721.78 L620.06,1720.11 L620.18,1718.46 L620.29,1716.90 L620.40,1715.50 L620.48,1714.25 L620.55,1713.08 L620.60,1711.95 L620.66,1710.85 L620.74,1709.76 L620.85,1708.65 L620.99,1707.50 L621.20,1706.30 L621.46,1705.02 L621.76,1703.68 L622.11,1702.30 L622.48,1700.91 L622.88,1699.52 L623.31,1698.18 L623.75,1696.90 L624.20,1695.70 L624.65,1694.58 L625.10,1693.50 L625.56,1692.47 L626.05,1691.49 L626.57,1690.55 L627.15,1689.65 L627.79,1688.80 L628.50,1688.00 L629.32,1687.25 L630.24,1686.56 L631.24,1685.91 L632.29,1685.31 L633.35,1684.75 L634.39,1684.21 L635.38,1683.70 L636.30,1683.20 L637.15,1682.72 L637.97,1682.26 L638.76,1681.82 L639.52,1681.41 L640.26,1681.03 L640.99,1680.69 L641.70,1680.38 L642.40,1680.10 L643.12,1679.87 L643.86,1679.68 L644.61,1679.53 L645.33,1679.41 L646.00,1679.31 L646.61,1679.23 L647.11,1679.16 L647.50,1679.10 L648.58,1679.83 L649.95,1680.79 L651.58,1681.92 L653.42,1683.19 L655.43,1684.56 L657.58,1685.98 L659.82,1687.41 L662.10,1688.80 L664.50,1690.21 L667.10,1691.71 L669.84,1693.25 L672.68,1694.83 L675.58,1696.41 L678.50,1697.97 L681.39,1699.47 L684.20,1700.90 L686.96,1702.26 L689.73,1703.59 L692.49,1704.88 L695.26,1706.14 L698.02,1707.37 L700.78,1708.58 L703.54,1709.75 L706.30,1710.90 L709.05,1712.02 L711.80,1713.10 L714.55,1714.15 L717.30,1715.17 L720.05,1716.17 L722.80,1717.16 L725.55,1718.13 L728.30,1719.10 L731.06,1720.06 L733.82,1721.00 L736.58,1721.93 L739.34,1722.85 L742.11,1723.75 L744.87,1724.65 L747.64,1725.53 L750.40,1726.40 L753.16,1727.26 L755.92,1728.11 L758.69,1728.95 L761.45,1729.78 L764.21,1730.60 L766.98,1731.41 L769.74,1732.21 L772.50,1733.00 L775.26,1733.78 L778.02,1734.55 L780.79,1735.31 L783.55,1736.06 L786.31,1736.80 L789.08,1737.54 L791.84,1738.27 L794.60,1739.00 L797.36,1739.73 L800.12,1740.46 L802.89,1741.18 L805.65,1741.89 L808.41,1742.60 L811.18,1743.31 L813.94,1744.01 L816.70,1744.70 L819.46,1745.38 L822.23,1746.06 L824.99,1746.73 L827.76,1747.39 L830.52,1748.04 L833.28,1748.70 L836.04,1749.35 L838.80,1750.00 L841.55,1750.65 L844.30,1751.31 L847.05,1751.96 L849.80,1752.61 L852.55,1753.25 L855.30,1753.88 L858.05,1754.50 L860.80,1755.10 L863.56,1755.69 L866.32,1756.26 L869.08,1756.82 L871.84,1757.37 L874.61,1757.91 L877.37,1758.44 L880.14,1758.97 L882.90,1759.50 L885.71,1760.03 L888.59,1760.56 L891.50,1761.09 L894.39,1761.61 L897.23,1762.11 L899.97,1762.60 L902.58,1763.06 L905.00,1763.50 L907.32,1763.92 L909.60,1764.33 L911.80,1764.73 L913.88,1765.10 L915.79,1765.44 L917.47,1765.75 L918.89,1766.00 L920.00,1766.20" fill="none" stroke="#555" stroke-width="1.1" stroke-linejoin="round" stroke-linecap="round" stroke-linecap="butt"/>
<line x1="304.60" y1="1930.00" x2="920.00" y2="1931.20" stroke="#555" stroke-width="1.1"/>
<text transform="translate(142.89,1661.50) scale(0.8818,1)" font-size="32.00" fill="#231f20" stroke="#231f20" stroke-width="0.58">ka(S</text>
<text transform="translate(200.87,1650.80) scale(0.9825,1)" font-size="21.00" fill="#231f20" stroke="#231f20" stroke-width="0.38">-1</text>
<text transform="translate(219.79,1661.50) scale(1.1036,1)" font-size="32.00" fill="#231f20" stroke="#231f20" stroke-width="0.58">M</text>
<text transform="translate(249.06,1650.80) scale(1.0005,1)" font-size="21.00" fill="#231f20" stroke="#231f20" stroke-width="0.38">-1</text>
<text transform="translate(270.26,1661.50) scale(0.6629,1)" font-size="32.00" fill="#231f20" stroke="#231f20" stroke-width="0.58">)</text>
<text transform="translate(278.80,1661.50) scale(1.0000,1)" font-size="32.00" fill="#231f20" stroke="#231f20" stroke-width="0.58">:</text>
<text transform="translate(295.50,1661.80) scale(0.9693,1)" font-size="32.00" fill="#231f20" stroke="#231f20" stroke-width="0.58">7.7x10</text>
<text transform="translate(389.45,1651.10) scale(0.9093,1)" font-size="21.00" fill="#231f20" stroke="#231f20" stroke-width="0.38">4</text>
<text transform="translate(142.83,1709.80) scale(0.9092,1)" font-size="32.00" fill="#231f20" stroke="#231f20" stroke-width="0.58">kd(S</text>
<text transform="translate(202.68,1699.80) scale(0.9706,1)" font-size="21.00" fill="#231f20" stroke="#231f20" stroke-width="0.38">-1</text>
<text transform="translate(223.37,1709.80) scale(0.6511,1)" font-size="32.00" fill="#231f20" stroke="#231f20" stroke-width="0.58">)</text>
<text transform="translate(278.95,1710.00) scale(1.0000,1)" font-size="32.00" fill="#231f20" stroke="#231f20" stroke-width="0.58">:</text>
<text transform="translate(295.85,1710.20) scale(0.9655,1)" font-size="32.00" fill="#231f20" stroke="#231f20" stroke-width="0.58">5.7x10</text>
<text transform="translate(389.29,1699.50) scale(0.9648,1)" font-size="21.00" fill="#231f20" stroke="#231f20" stroke-width="0.38">-4</text>
<text transform="translate(143.00,1758.30) scale(0.7965,1)" font-size="32.00" fill="#231f20" stroke="#231f20" stroke-width="0.58">K</text>
<text transform="translate(160.70,1766.30) scale(0.9658,1)" font-size="20.00" fill="#231f20" stroke="#231f20" stroke-width="0.36">D</text>
<text transform="translate(174.73,1758.30) scale(1.0360,1)" font-size="32.00" fill="#231f20" stroke="#231f20" stroke-width="0.58">(nM)</text>
<text transform="translate(282.75,1758.30) scale(1.0000,1)" font-size="32.00" fill="#231f20" stroke="#231f20" stroke-width="0.58">:</text>
<text transform="translate(301.08,1758.30) scale(0.9217,1)" font-size="32.00" fill="#231f20" stroke="#231f20" stroke-width="0.58">7.4</text>
</svg>
</body></html>
